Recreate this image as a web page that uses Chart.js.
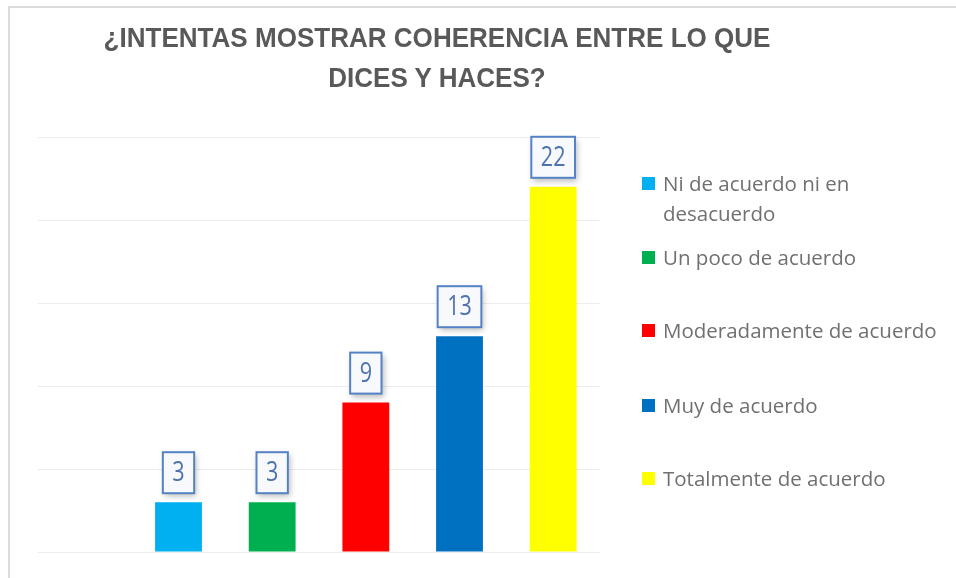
<!DOCTYPE html>
<html>
<head>
<meta charset="utf-8">
<script src="https://cdn.jsdelivr.net/npm/chart.js@4.4.1/dist/chart.umd.min.js"></script>
<style>
  html, body { margin: 0; padding: 0; background: #fff; }
  body { width: 956px; height: 578px; position: relative; overflow: hidden; }
  .frame {
    position: absolute; left: 8px; top: 6px; width: 1000px; height: 620px;
    border: 2px solid #dcdcdc; box-sizing: border-box;
  }
  #wrap { position: absolute; left: 0; top: 0; width: 874px; height: 578px; }
  #title {
    position: absolute; left: 37px; top: 18px; width: 800px; text-align: center;
    font-family: "Liberation Sans", Arial, sans-serif; font-weight: bold; font-size: 28px;
    line-height: 40px; color: #595959; transform: scaleX(0.93); transform-origin: 400px 0;
  }
  #legend {
    position: absolute; left: 642px; top: 0; margin: 0; padding: 0; list-style: none;
    font-family: "Open Sans", "Liberation Sans", sans-serif; font-size: 20.5px; color: #707070;
  }
  #legend li { position: absolute; left: 0; width: 310px; line-height: 30px; padding-left: 21px; white-space: nowrap; }
  #legend li span {
    position: absolute; left: 0; top: 9px; width: 13px; height: 13px;
  }
</style>
</head>
<body>
<div class="frame"></div>
<div id="wrap"><canvas id="chart"></canvas></div>
<div id="title"></div>
<ul id="legend"></ul>
<script>
  const titleLines = ["¿INTENTAS MOSTRAR COHERENCIA ENTRE LO QUE", "DICES Y HACES?"];
  const categories = ["Ni de acuerdo ni en desacuerdo", "Un poco de acuerdo", "Moderadamente de acuerdo", "Muy de acuerdo", "Totalmente de acuerdo"];
  const legendLines = [["Ni de acuerdo ni en", "desacuerdo"], ["Un poco de acuerdo"], ["Moderadamente de acuerdo"], ["Muy de acuerdo"], ["Totalmente de acuerdo"]];
  const values = [3, 3, 9, 13, 22];
  const colors = ["#00b0f0", "#00b050", "#ff0000", "#0070c0", "#ffff00"];

  document.getElementById("title").innerHTML = titleLines.join("<br>");

  // Label boxes above each bar
  const boxLabels = {
    id: "boxLabels",
    afterDatasetsDraw(chart) {
      const ctx = chart.ctx;
      const meta = chart.getDatasetMeta(0);
      ctx.save();
      ctx.font = '27px "Open Sans", "Liberation Sans", sans-serif';
      ctx.textAlign = "center";
      ctx.textBaseline = "middle";
      meta.data.forEach((bar, i) => {
        const v = chart.data.datasets[0].data[i];
        if (v == null) return;
        const text = String(v);
        const tw = ctx.measureText(text).width * 0.8;
        const w = tw + 19;
        const h = 41;
        const x = bar.x - w / 2;
        const y = bar.y - 9 - h;
        ctx.save();
        ctx.shadowColor = "rgba(0,0,0,0.28)";
        ctx.shadowBlur = 6;
        ctx.shadowOffsetX = 2;
        ctx.shadowOffsetY = 3;
        ctx.fillStyle = "#f7f9fc";
        ctx.fillRect(x, y, w, h);
        ctx.restore();
        ctx.lineWidth = 2;
        ctx.strokeStyle = "#5482c4";
        ctx.strokeRect(x, y, w, h);
        ctx.fillStyle = "#4e72ad";
        ctx.fillText(text, bar.x, y + h / 2 + 1, tw);
      });
      ctx.restore();
    }
  };

  // the chart leaves one empty slot before the first bar
  new Chart(document.getElementById("chart"), {
    type: "bar",
    data: {
      labels: [""].concat(categories),
      datasets: [{
        data: [null].concat(values),
        backgroundColor: ["#fff"].concat(colors),
        barPercentage: 0.5,
        categoryPercentage: 1
      }]
    },
    options: {
      responsive: true,
      maintainAspectRatio: false,
      animation: false,
      layout: { padding: { left: 38, right: 274, top: 137, bottom: 18 } },
      scales: {
        x: {
          grid: { display: false },
          border: { display: false },
          ticks: { display: false }
        },
        y: {
          min: 0,
          max: 25,
          ticks: { display: false, stepSize: 5 },
          grid: { color: "#ececec", lineWidth: 1, drawTicks: false },
          border: { display: false }
        }
      },
      plugins: {
        legend: { display: false },
        tooltip: { enabled: false },
        title: { display: false }
      }
    },
    plugins: [boxLabels]
  });

  // Legend on the right
  const legendTops = [168, 242, 315, 390, 463];
  const legendEl = document.getElementById("legend");
  categories.forEach((name, i) => {
    const li = document.createElement("li");
    li.style.top = legendTops[i] + "px";
    li.innerHTML = `<span style="background:${colors[i]}"></span>` + legendLines[i].join("<br>");
    legendEl.append(li);
  });
</script>
</body>
</html>
